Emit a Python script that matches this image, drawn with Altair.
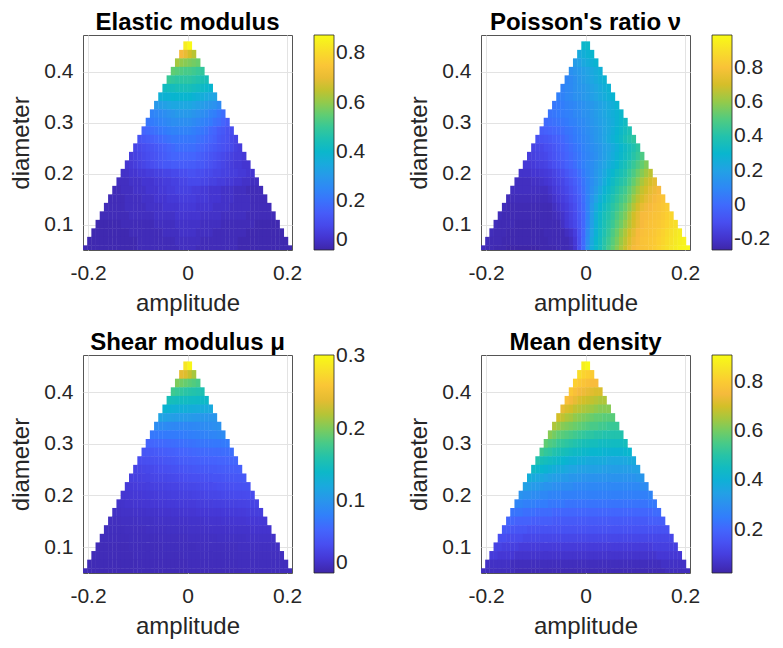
import altair as alt
import pandas as pd

# ---------------- grid of the picture ----------------
AMP_MIN, AMP_MAX = -0.21, 0.21        # x-axis limits (bottom row fills them)
DIAM_MIN, DIAM_MAX = 0.05, 0.4716     # y-axis limits
N_COLS = 50                           # cells in the bottom row
N_ROWS = 25                           # rows, centred at 0.05 ... 0.45
AMP_STEP = (AMP_MAX - AMP_MIN) / N_COLS
DIAM_STEP = 0.40 / (N_ROWS - 1)
SEAM = 0.0008                         # tiny overlap so neighbouring cells leave no hairline gap

# ---------------- values ----------------
# rows listed top (diameter 0.45) to bottom (0.05); each row is centred on amplitude 0
# Elastic modulus, in units of 0.01
elastic_rows = [
    [84, 87],
    [72, 70, 67, 64],
    [62, 60, 59, 58, 57, 56],
    [55, 54, 53, 52, 52, 51, 50, 49],
    [50, 49, 48, 48, 48, 48, 47, 46, 45, 44],
    [42, 43, 43, 44, 44, 44, 44, 43, 42, 41, 40, 39],
    [37, 38, 38, 39, 39, 39, 39, 39, 38, 37, 36, 35, 34, 33],
    [30, 31, 32, 33, 34, 34, 34, 34, 34, 33, 32, 31, 30, 29, 28, 26],
    [24, 25, 26, 27, 28, 29, 30, 30, 30, 30, 29, 28, 27, 26, 24, 23, 21, 19],
    [21, 22, 23, 24, 25, 26, 27, 27, 27, 27, 27, 26, 25, 24, 23, 22, 20, 19, 17, 15],
    [17, 18, 19, 20, 21, 22, 23, 24, 24, 24, 24, 24, 23, 22, 21, 20, 18, 17, 15, 14, 12, 11],
    [13, 14, 15, 16, 17, 18, 19, 20, 21, 21, 21, 21, 21, 21, 20, 19, 18, 17, 16, 14, 13, 12, 10, 9],
    [9, 10, 11, 12, 13, 14, 15, 16, 17, 18, 19, 19, 19, 19, 19, 18, 17, 16, 15, 14, 13, 12, 11, 10, 8, 7],
    [7, 8, 9, 10, 11, 12, 13, 14, 15, 16, 17, 17, 17, 17, 17, 17, 16, 15, 14, 13, 12, 11, 10, 9, 8, 7, 7, 6],
    [5, 6, 7, 8, 9, 10, 11, 12, 13, 14, 14, 15, 15, 15, 15, 15, 15, 14, 14, 13, 12, 11, 10, 9, 8, 7, 6, 6, 5, 5],
    [4, 4, 5, 5, 6, 6, 7, 7, 8, 8, 9, 9, 10, 10, 11, 11, 12, 12, 11, 11, 10, 10, 9, 9, 8, 8, 7, 7, 6, 6, 5, 5],
    [3, 3, 3, 4, 4, 4, 5, 5, 5, 6, 6, 7, 7, 8, 8, 9, 9, 10, 10, 10, 9, 9, 8, 8, 7, 7, 6, 6, 5, 5, 4, 4, 3, 3],
    [2, 2, 3, 3, 3, 4, 4, 4, 5, 5, 5, 6, 6, 7, 7, 8, 8, 8, 8, 7, 7, 6, 6, 5, 5, 5, 4, 4, 4, 3, 3, 3, 2, 2, 2, 2],
    [2, 2, 2, 2, 3, 3, 3, 3, 4, 4, 4, 5, 5, 5, 6, 6, 6, 7, 7, 7, 7, 6, 6, 6, 5, 5, 5, 4, 4, 4, 3, 3, 3, 3, 2, 2, 2, 2],
    [2, 2, 2, 2, 2, 3, 3, 3, 3, 3, 4, 4, 4, 4, 5, 5, 5, 5, 6, 6, 6, 6, 5, 5, 5, 5, 4, 4, 4, 4, 3, 3, 3, 3, 3, 2, 2, 2, 2, 2],
    [2, 2, 2, 2, 2, 2, 2, 3, 3, 3, 3, 3, 3, 4, 4, 4, 4, 4, 5, 5, 5, 5, 5, 5, 4, 4, 4, 4, 4, 3, 3, 3, 3, 3, 3, 2, 2, 2, 2, 2, 2, 2],
    [1, 1, 1, 1, 1, 1, 2, 2, 2, 2, 2, 2, 2, 2, 3, 3, 3, 3, 3, 4, 4, 4, 4, 4, 4, 3, 3, 3, 3, 3, 2, 2, 2, 2, 2, 2, 2, 2, 1, 1, 1, 1, 1, 1],
    [1, 1, 1, 1, 1, 1, 1, 1, 1, 2, 2, 2, 2, 2, 2, 2, 2, 3, 3, 3, 3, 4, 4, 4, 4, 3, 3, 3, 3, 2, 2, 2, 2, 2, 2, 2, 2, 1, 1, 1, 1, 1, 1, 1, 1, 1],
    [1, 1, 1, 1, 1, 1, 1, 1, 1, 1, 1, 1, 2, 2, 2, 2, 2, 2, 2, 2, 2, 3, 3, 3, 3, 3, 3, 2, 2, 2, 2, 2, 2, 2, 2, 2, 1, 1, 1, 1, 1, 1, 1, 1, 1, 1, 1, 1],
    [1, 1, 1, 1, 1, 1, 1, 1, 1, 1, 1, 1, 1, 2, 2, 2, 2, 2, 2, 2, 2, 2, 2, 3, 3, 3, 3, 2, 2, 2, 2, 2, 2, 2, 2, 2, 2, 1, 1, 1, 1, 1, 1, 1, 1, 1, 1, 1, 1, 1],
]

# Poisson's ratio, in units of 0.01
poisson_rows = [
    [31, 32],
    [24, 26, 28, 30],
    [18, 20, 23, 25, 27, 29],
    [13, 15, 17, 19, 21, 23, 25, 27],
    [9, 11, 13, 16, 18, 20, 22, 24, 26, 28],
    [8, 10, 11, 13, 15, 16, 18, 20, 22, 24, 26, 28],
    [7, 8, 10, 11, 13, 14, 16, 17, 19, 21, 23, 25, 27, 29],
    [4, 5, 6, 8, 9, 10, 12, 13, 15, 16, 18, 20, 22, 24, 26, 29],
    [3, 4, 5, 6, 7, 8, 10, 11, 13, 14, 16, 18, 20, 22, 24, 26, 28, 31],
    [0, 1, 2, 3, 4, 5, 7, 8, 10, 11, 13, 15, 17, 19, 21, 23, 25, 28, 31, 34],
    [-4, -3, -2, -1, 0, 1, 3, 4, 6, 8, 10, 12, 14, 16, 18, 21, 23, 26, 29, 32, 35, 38],
    [-9, -8, -7, -6, -4, -3, -1, 1, 3, 5, 7, 9, 11, 13, 16, 18, 21, 24, 27, 30, 33, 37, 40, 43],
    [-14, -13, -12, -10, -9, -7, -5, -3, -1, 1, 3, 5, 8, 10, 12, 14, 16, 19, 21, 24, 27, 30, 33, 36, 39, 43],
    [-16, -15, -14, -13, -12, -10, -8, -6, -4, -2, 0, 2, 4, 7, 9, 11, 13, 16, 19, 22, 25, 28, 31, 34, 37, 41, 45, 49],
    [-18, -18, -17, -16, -15, -14, -12, -10, -8, -6, -3, -1, 1, 4, 7, 10, 12, 15, 18, 21, 24, 27, 30, 34, 37, 41, 45, 49, 53, 57],
    [-20, -20, -20, -19, -19, -18, -17, -16, -14, -12, -10, -7, -4, -2, 1, 5, 9, 12, 16, 19, 23, 27, 30, 34, 37, 40, 45, 49, 54, 58, 62, 66],
    [-22, -22, -22, -22, -21, -21, -20, -19, -18, -16, -14, -13, -10, -7, -4, -1, 3, 8, 12, 16, 20, 25, 29, 33, 37, 40, 43, 48, 53, 58, 63, 67, 70, 73],
    [-22, -22, -22, -22, -22, -22, -22, -22, -22, -20, -18, -16, -14, -12, -9, -6, -2, 2, 8, 13, 18, 23, 28, 32, 36, 40, 44, 47, 52, 57, 62, 67, 70, 73, 75, 77],
    [-23, -23, -23, -23, -23, -23, -23, -23, -23, -23, -22, -20, -18, -16, -14, -11, -8, -4, 1, 8, 15, 21, 26, 31, 35, 39, 43, 47, 50, 55, 61, 66, 70, 73, 75, 77, 79, 81],
    [-23, -24, -24, -24, -24, -24, -24, -24, -24, -24, -24, -24, -22, -20, -18, -16, -13, -10, -5, 0, 8, 17, 24, 29, 34, 38, 42, 46, 50, 54, 59, 65, 70, 74, 76, 77, 79, 80, 82, 84],
    [-23, -24, -24, -24, -24, -24, -24, -24, -24, -24, -24, -24, -24, -23, -22, -20, -17, -14, -11, -6, -1, 8, 18, 26, 32, 37, 40, 44, 49, 53, 57, 63, 69, 73, 77, 78, 79, 80, 81, 83, 85, 87],
    [-23, -24, -24, -24, -24, -25, -25, -25, -25, -25, -25, -24, -24, -24, -24, -24, -21, -18, -15, -12, -7, -1, 9, 19, 27, 33, 38, 42, 46, 51, 55, 60, 65, 70, 74, 77, 79, 80, 81, 82, 84, 86, 88, 90],
    [-23, -24, -24, -24, -25, -25, -25, -25, -25, -25, -25, -25, -25, -24, -24, -24, -24, -24, -22, -20, -16, -9, -1, 11, 21, 28, 34, 39, 44, 49, 54, 59, 64, 69, 73, 77, 79, 80, 81, 82, 84, 86, 88, 90, 92, 94],
    [-23, -24, -24, -24, -25, -25, -25, -25, -25, -25, -25, -25, -25, -25, -25, -24, -24, -24, -24, -24, -22, -18, -10, 0, 12, 23, 30, 35, 41, 46, 51, 56, 61, 66, 71, 75, 78, 80, 81, 82, 83, 85, 87, 89, 91, 93, 95, 96],
    [-23, -24, -24, -25, -25, -25, -26, -26, -26, -26, -26, -26, -26, -26, -25, -25, -25, -25, -24, -24, -24, -23, -19, -10, 0, 14, 25, 31, 36, 42, 48, 53, 58, 63, 68, 73, 77, 79, 80, 81, 82, 84, 86, 88, 90, 92, 94, 96, 97, 98],
]

# Shear modulus, in units of 0.001
shear_rows = [
    [285, 298],
    [240, 236, 226, 214],
    [200, 196, 192, 188, 184, 180],
    [176, 172, 168, 164, 162, 160, 158, 156],
    [152, 150, 148, 146, 145, 144, 143, 142, 141, 140],
    [132, 130, 128, 127, 126, 126, 125, 124, 123, 122, 121, 120],
    [114, 112, 110, 108, 107, 106, 105, 105, 104, 103, 102, 101, 100, 100],
    [92, 91, 90, 89, 88, 88, 87, 87, 87, 88, 89, 90, 91, 92, 94, 96],
    [74, 74, 75, 75, 76, 76, 77, 77, 78, 79, 80, 81, 82, 83, 85, 86, 88, 90],
    [58, 60, 61, 62, 63, 64, 65, 66, 67, 68, 69, 70, 71, 72, 72, 73, 74, 74, 75, 76],
    [45, 47, 48, 50, 51, 53, 54, 55, 57, 58, 59, 60, 61, 62, 62, 63, 63, 64, 64, 65, 65, 66],
    [38, 39, 40, 42, 43, 44, 46, 47, 48, 50, 51, 52, 53, 54, 55, 56, 56, 57, 57, 58, 58, 59, 59, 60],
    [30, 31, 33, 34, 35, 37, 38, 39, 40, 42, 43, 44, 45, 46, 47, 48, 48, 49, 50, 50, 51, 52, 52, 53, 53, 54],
    [26, 27, 28, 29, 30, 31, 32, 33, 33, 34, 35, 36, 37, 38, 39, 40, 40, 41, 42, 43, 44, 44, 45, 46, 46, 47, 47, 48],
    [21, 22, 23, 24, 24, 25, 26, 27, 27, 28, 29, 30, 30, 31, 32, 33, 33, 34, 35, 36, 36, 37, 38, 39, 39, 40, 41, 41, 42, 42],
    [18, 18, 19, 20, 20, 21, 22, 22, 23, 24, 24, 25, 26, 26, 27, 28, 28, 29, 30, 30, 31, 32, 32, 33, 34, 34, 35, 36, 36, 36, 37, 37],
    [15, 15, 16, 16, 17, 17, 18, 18, 19, 19, 20, 20, 21, 21, 22, 22, 22, 23, 23, 24, 24, 25, 25, 26, 26, 27, 27, 28, 28, 29, 29, 30, 30, 30],
    [12, 12, 13, 13, 13, 14, 14, 14, 15, 15, 15, 16, 16, 16, 17, 17, 17, 18, 18, 18, 19, 19, 19, 20, 20, 20, 21, 21, 22, 22, 23, 23, 24, 24, 25, 25],
    [10, 10, 10, 11, 11, 11, 11, 12, 12, 12, 12, 13, 13, 13, 13, 14, 14, 14, 14, 15, 15, 15, 15, 16, 16, 16, 16, 17, 17, 17, 18, 18, 18, 19, 19, 19, 20, 20],
    [9, 9, 9, 9, 9, 10, 10, 10, 10, 10, 11, 11, 11, 11, 11, 12, 12, 12, 12, 12, 13, 13, 13, 13, 13, 14, 14, 14, 14, 14, 15, 15, 15, 15, 15, 16, 16, 16, 16, 16],
    [8, 8, 8, 8, 8, 8, 8, 9, 9, 9, 9, 9, 9, 9, 10, 10, 10, 10, 10, 10, 10, 11, 11, 11, 11, 11, 11, 11, 12, 12, 12, 12, 12, 12, 12, 13, 13, 13, 13, 13, 13, 13],
    [7, 7, 7, 7, 7, 7, 7, 7, 8, 8, 8, 8, 8, 8, 8, 8, 9, 9, 9, 9, 9, 9, 9, 9, 10, 10, 10, 10, 10, 10, 10, 10, 10, 10, 11, 11, 11, 11, 11, 11, 11, 11, 11, 11],
    [7, 7, 7, 7, 7, 7, 7, 7, 7, 7, 8, 8, 8, 8, 8, 8, 8, 8, 8, 8, 8, 8, 9, 9, 9, 9, 9, 9, 9, 9, 9, 9, 9, 9, 10, 10, 10, 10, 10, 10, 10, 10, 10, 10, 10, 10],
    [6, 6, 6, 6, 6, 6, 6, 6, 6, 6, 6, 6, 7, 7, 7, 7, 7, 7, 7, 7, 7, 7, 7, 7, 8, 8, 8, 8, 8, 8, 8, 8, 8, 8, 8, 8, 9, 9, 9, 9, 9, 9, 9, 9, 9, 9, 9, 9],
    [5, 5, 5, 5, 5, 5, 5, 5, 5, 5, 5, 5, 6, 6, 6, 6, 6, 6, 6, 6, 6, 6, 6, 6, 6, 7, 7, 7, 7, 7, 7, 7, 7, 7, 7, 7, 7, 7, 8, 8, 8, 8, 8, 8, 8, 8, 8, 8, 8, 8],
]

# Mean density, in units of 0.01
density_rows = [
    [88, 90],
    [84, 82, 81, 80],
    [81, 79, 78, 77, 76, 76],
    [79, 77, 75, 74, 73, 72, 71, 71],
    [77, 75, 73, 71, 70, 69, 68, 67, 66, 66],
    [73, 71, 70, 68, 67, 66, 65, 64, 63, 62, 62, 62],
    [70, 68, 66, 65, 63, 62, 61, 60, 59, 58, 58, 57, 57, 57],
    [66, 64, 62, 61, 60, 59, 58, 57, 56, 55, 55, 54, 54, 53, 53, 53],
    [62, 60, 58, 57, 56, 55, 54, 53, 52, 51, 51, 50, 50, 49, 49, 49, 49, 49],
    [58, 56, 55, 53, 52, 51, 50, 49, 48, 47, 47, 46, 46, 45, 45, 45, 45, 45, 45, 46],
    [54, 52, 51, 49, 48, 47, 46, 45, 44, 44, 43, 43, 42, 42, 42, 41, 41, 41, 41, 41, 42, 42],
    [49, 47, 46, 45, 44, 43, 42, 41, 40, 40, 39, 39, 38, 38, 38, 38, 38, 37, 37, 37, 37, 37, 38, 38],
    [44, 43, 42, 41, 40, 39, 38, 38, 37, 36, 36, 35, 35, 35, 35, 35, 35, 34, 34, 34, 34, 34, 34, 34, 35, 35],
    [39, 38, 37, 37, 36, 35, 34, 34, 33, 33, 32, 32, 32, 31, 31, 31, 31, 31, 31, 31, 31, 31, 31, 31, 31, 31, 32, 32],
    [35, 34, 33, 33, 32, 31, 31, 30, 30, 29, 29, 29, 28, 28, 28, 28, 28, 28, 28, 28, 28, 28, 28, 28, 28, 28, 28, 28, 29, 29],
    [31, 30, 30, 29, 29, 28, 28, 27, 27, 27,
     26, 26, 26, 26, 26, 26, 26, 26, 26, 26,
     26, 26, 26, 26, 26, 26, 26, 26, 26, 26,
     26, 27],
    [27, 27, 26, 26, 26, 25, 25, 25, 24, 24,
     24, 24, 23, 23, 23, 23, 23, 23, 23, 23,
     23, 23, 23, 23, 23, 23, 23, 23, 23, 23,
     23, 23, 24, 24],
    [23, 23, 23, 22, 22, 22, 21, 21, 21, 21,
     20, 20, 20, 20, 20, 20, 20, 20, 20, 20,
     20, 20, 20, 20, 20, 20, 20, 20, 20, 20,
     20, 20, 20, 20, 21, 21],
    [20, 20, 19, 19, 19, 19, 18, 18, 18, 18,
     18, 17, 17, 17, 17, 17, 17, 17, 17, 17,
     17, 17, 17, 17, 17, 17, 17, 17, 17, 17,
     17, 17, 17, 17, 18, 18, 18, 18],
    [17, 17, 16, 16, 16, 16, 15, 15, 15, 15,
     15, 15, 15, 15, 15, 15, 15, 15, 15, 15,
     15, 15, 15, 15, 15, 15, 15, 15, 15, 15,
     15, 15, 15, 15, 15, 15, 15, 15, 15, 15],
    [14, 14, 13, 13, 13, 13, 12, 12, 12, 12,
     12, 12, 12, 12, 12, 12, 12, 12, 12, 12,
     12, 12, 12, 12, 12, 12, 12, 12, 12, 12,
     12, 12, 12, 12, 12, 12, 12, 12, 12, 12,
     12, 12],
    [11, 11, 10, 10, 10, 10, 9, 9, 9, 9,
     9, 9, 9, 9, 9, 9, 9, 9, 9, 9,
     9, 9, 9, 9, 9, 9, 9, 9, 9, 9,
     9, 9, 9, 9, 9, 9, 9, 9, 10, 10,
     10, 10, 10, 10],
    [9, 9, 8, 8, 8, 8, 7, 7, 7, 7,
     7, 7, 7, 7, 7, 7, 7, 7, 7, 7,
     7, 7, 7, 7, 7, 7, 7, 7, 7, 7,
     7, 7, 7, 7, 7, 7, 7, 7, 7, 7,
     8, 8, 8, 8, 8, 8],
    [6, 6, 6, 6, 6, 6, 5, 5, 5, 5,
     5, 5, 5, 5, 5, 5, 5, 5, 5, 5,
     5, 5, 5, 5, 5, 5, 5, 5, 5, 5,
     5, 5, 5, 5, 5, 5, 5, 5, 5, 5,
     5, 5, 6, 6, 6, 6, 6, 6],
    [5, 5, 5, 5, 5, 5, 5, 5, 4, 4,
     4, 4, 4, 4, 4, 4, 4, 4, 4, 4,
     4, 4, 4, 4, 4, 4, 4, 4, 4, 4,
     4, 4, 4, 4, 4, 4, 4, 4, 4, 4,
     4, 4, 4, 4, 5, 5, 5, 5, 5, 5],
]

titles = ["Elastic modulus", "Poisson's ratio \u03bd", "Shear modulus \u03bc", "Mean density"]
units = [0.01, 0.01, 0.001, 0.01]
color_limits = [(0.0, 0.875), (-0.262, 0.99), (0.0, 0.302), (0.024, 0.908)]
colorbar_ticks = [[0, 0.2, 0.4, 0.6, 0.8], [-0.2, 0, 0.2, 0.4, 0.6, 0.8], [0, 0.1, 0.2, 0.3], [0.2, 0.4, 0.6, 0.8]]
x_ticks = [-0.2, 0, 0.2]
y_ticks = [0.1, 0.2, 0.3, 0.4]

# parula colour map (every 4th of the 64 entries)
PARULA = ["#3e26a8", "#4537d5", "#484df0", "#4563fd", "#327cfc", "#2b91ef", "#20a5e3",
          "#08b5d0", "#19bfb6", "#37c897", "#64cd6f", "#9dc943", "#d1bf27", "#f8ba3d",
          "#fccf30", "#f5e924", "#f9fb15"]
PARULA_POS = [0, 4, 8, 12, 16, 20, 24, 28, 32, 36, 40, 44, 48, 52, 56, 60, 63]

FONT = "Liberation Sans"
INK = "#262626"
MINUS_FIX = "replace(datum.label, '\u2212', '-')"

PW = 209
PH_TOP, PH_BOTTOM = 215, 218


def cells(rows, unit):
    recs = []
    for r, row in enumerate(rows):
        i = N_ROWS - 1 - r
        if len(row) != N_COLS - 2 * i:
            raise ValueError(f"row {r} has {len(row)} values, expected {N_COLS - 2 * i}")
        d_lo = DIAM_MIN + (i - 0.5) * DIAM_STEP
        for j, v in enumerate(row):
            k = i + j
            recs.append({
                "a0": AMP_MIN + k * AMP_STEP,
                "a1": AMP_MIN + (k + 1) * AMP_STEP + SEAM,
                "d0": max(d_lo, DIAM_MIN),
                "d1": d_lo + DIAM_STEP + SEAM,
                "v": v * unit,
            })
    return pd.DataFrame(recs)


def panel(rows, unit, title, lims, ticks, ph):
    lo, hi = lims
    stops = [lo + (hi - lo) * p / 63 for p in PARULA_POS]
    cscale = alt.Scale(domain=stops, range=PARULA, interpolate="rgb")
    return alt.Chart(
        cells(rows, unit),
        title=alt.TitleParams(title, fontSize=24, fontWeight="bold", font=FONT,
                              color="black", anchor="middle", offset=0),
    ).mark_rect(clip=True).encode(
        x=alt.X("a0:Q", scale=alt.Scale(domain=[AMP_MIN, AMP_MAX], nice=False, zero=False),
                axis=alt.Axis(values=x_ticks, title="amplitude", format="~g",
                              labelExpr=MINUS_FIX, labelPadding=12, titlePadding=8)),
        x2="a1",
        y=alt.Y("d0:Q", scale=alt.Scale(domain=[DIAM_MIN, DIAM_MAX], nice=False, zero=False),
                axis=alt.Axis(values=y_ticks, title="diameter", format="~g",
                              labelPadding=10, titlePadding=10)),
        y2="d1",
        color=alt.Color("v:Q", scale=cscale,
                        legend=alt.Legend(type="gradient", values=ticks, title=None,
                                          format="~g", labelExpr=MINUS_FIX,
                                          gradientLength=ph, gradientThickness=20,
                                          offset=22, padding=0)),
    ).properties(width=PW, height=ph)


data = [elastic_rows, poisson_rows, shear_rows, density_rows]
heights = [PH_TOP, PH_TOP, PH_BOTTOM, PH_BOTTOM]
panels = [panel(data[n], units[n], titles[n], color_limits[n], colorbar_ticks[n], heights[n])
          for n in range(4)]

top = alt.hconcat(panels[0], panels[1], spacing=40).resolve_scale(color="independent")
bottom = alt.hconcat(panels[2], panels[3], spacing=40).resolve_scale(color="independent")

chart = alt.vconcat(top, bottom, spacing=14).resolve_scale(
    color="independent"
).configure(background="white", padding={"left": 1, "top": 2, "right": 0, "bottom": 0}).configure_view(
    stroke="#555555", strokeWidth=1
).configure_axis(
    labelFont=FONT, titleFont=FONT, labelFontSize=21, titleFontSize=24,
    titleFontWeight="normal", labelColor=INK, titleColor=INK,
    grid=True, gridColor="#e3e3e3", gridWidth=1, domain=False, ticks=False, tickSize=0,
).configure_legend(
    labelFont=FONT, labelFontSize=21, labelColor=INK, labelOffset=5,
    gradientStrokeColor=INK, gradientStrokeWidth=0.8,
)

chart.save("out.html", embed_options={"renderer": "svg", "actions": False})
